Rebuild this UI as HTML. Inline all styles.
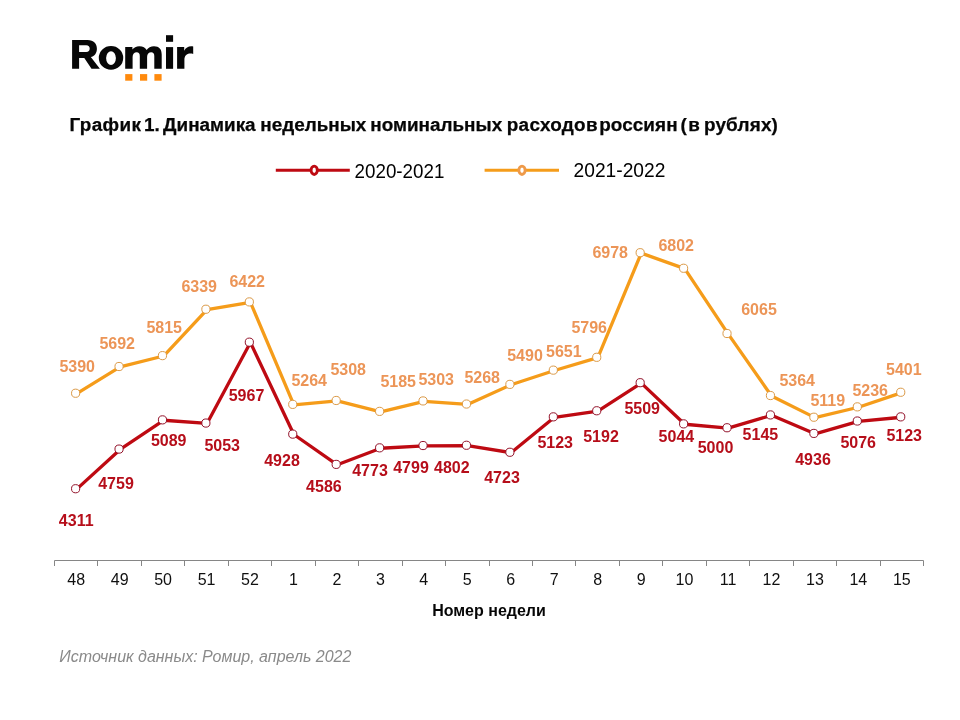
<!DOCTYPE html>
<html lang="ru">
<head>
<meta charset="utf-8">
<title>Romir</title>
<style>
html,body{margin:0;padding:0;background:#fff;}
body{width:960px;height:720px;overflow:hidden;font-family:"Liberation Sans",sans-serif;}
svg{display:block;will-change:transform;}
text{font-family:"Liberation Sans",sans-serif;}
.b{font-weight:bold;}
.dl{font-weight:bold;font-size:16px;text-anchor:middle;}
.tk{font-size:16px;text-anchor:middle;fill:#101010;}
</style>
</head>
<body>
<svg width="960" height="720" viewBox="0 0 960 720">
<rect x="0" y="0" width="960" height="720" fill="#ffffff"/>
<g fill="#070707">
<path fill-rule="evenodd" d="M72.1,68.8 V40 H87.5 C93.8,40 96.9,43.6 96.9,48.7 C96.9,53 94.6,56 90.8,57.1 L99.9,68.8 H91.5 L84.3,57.9 H79.1 V68.8 Z M79.1,45.2 H86.2 C88.6,45.2 89.7,46.6 89.7,48.6 C89.7,50.7 88.6,52.1 86.2,52.1 H79.1 Z"/>
<path fill-rule="evenodd" d="M98.8,57.9 a12.2,11.85 0 1 0 24.4,0 a12.2,11.85 0 1 0 -24.4,0 Z M106.1,58.1 a4.9,6.9 0 1 0 9.8,0 a4.9,6.9 0 1 0 -9.8,0 Z"/>
<path d="M125.2,68.8 V46.9 H132.4 V49.6 C133.8,47.5 136.3,46.2 139.3,46.2 C143,46.2 145.4,47.6 146.6,50 C148.2,47.6 150.8,46.2 154,46.2 C159.2,46.2 161.7,49.2 161.7,54.6 V68.8 H154.3 V56 C154.3,53.4 153.2,52.3 151.2,52.3 C148.8,52.3 147.1,54 147.1,57 V68.8 H139.8 V56 C139.8,53.4 138.7,52.3 136.7,52.3 C134.3,52.3 132.6,54 132.6,57 V68.8 Z"/>
<rect x="166" y="47.1" width="7.1" height="21.7"/>
<rect x="166" y="35.2" width="7.1" height="6.6"/>
<path d="M177.1,68.8 V46.9 H184.2 V50.8 C185.6,47.8 188.2,46.3 191.2,46.3 C192,46.3 192.7,46.4 193.2,46.5 V53.9 C192.4,53.7 191.4,53.5 190.3,53.5 C186.6,53.5 184.4,55.8 184.4,60 V68.8 Z"/>
</g>
<rect x="125.2" y="74.1" width="7.2" height="6.6" fill="#FF8A0D"/>
<rect x="140" y="74.1" width="7.2" height="6.6" fill="#FF8A0D"/>
<rect x="154.4" y="74.1" width="7.2" height="6.6" fill="#FF8A0D"/>
<text x="69.5" y="130.7" class="b" font-size="18.9" fill="#060606" stroke="#060606" stroke-width="0.25" letter-spacing="0.36">График</text>
<text x="144.1" y="130.7" class="b" font-size="18.9" fill="#060606" stroke="#060606" stroke-width="0.25" letter-spacing="0">1.</text>
<text x="163.1" y="130.7" class="b" font-size="18.9" fill="#060606" stroke="#060606" stroke-width="0.25" letter-spacing="0">Динамика</text>
<text x="260.3" y="130.7" class="b" font-size="18.9" fill="#060606" stroke="#060606" stroke-width="0.25" letter-spacing="0">недельных</text>
<text x="370.3" y="130.7" class="b" font-size="18.9" fill="#060606" stroke="#060606" stroke-width="0.25" letter-spacing="0">номинальных</text>
<text x="506.8" y="130.7" class="b" font-size="18.9" fill="#060606" stroke="#060606" stroke-width="0.25" letter-spacing="0.28">расходов</text>
<text x="599.2" y="130.7" class="b" font-size="18.9" fill="#060606" stroke="#060606" stroke-width="0.25" letter-spacing="0.08">россиян</text>
<text x="680.5" y="130.7" class="b" font-size="18.9" fill="#060606" stroke="#060606" stroke-width="0.25" letter-spacing="0">(</text>
<text x="688.3" y="130.7" class="b" font-size="18.9" fill="#060606" stroke="#060606" stroke-width="0.25" letter-spacing="0">в</text>
<text x="703.9" y="130.7" class="b" font-size="18.9" fill="#060606" stroke="#060606" stroke-width="0.25" letter-spacing="0.2">рублях)</text>
<line x1="275.8" y1="170.3" x2="349.8" y2="170.3" stroke="#BE0A12" stroke-width="3"/>
<ellipse cx="314.2" cy="170.3" rx="3.15" ry="4.15" fill="#fff" stroke="#BE0A12" stroke-width="2.9"/>
<text x="354.6" y="177.9" font-size="19.8" fill="#000" textLength="89.8" lengthAdjust="spacingAndGlyphs">2020-2021</text>
<line x1="484.6" y1="170.3" x2="559" y2="170.3" stroke="#F59C1A" stroke-width="3"/>
<ellipse cx="522" cy="170.3" rx="3.15" ry="4.15" fill="#fff" stroke="#EE9A4A" stroke-width="2.9"/>
<text x="573.6" y="177" font-size="19.6" fill="#000" textLength="91.8" lengthAdjust="spacingAndGlyphs">2021-2022</text>
<path d="M54.5 560.5H923.5" stroke="#868686" stroke-width="1" fill="none"/>
<path d="M54.50 560.5V566.0M97.50 560.5V566.0M141.50 560.5V566.0M184.50 560.5V566.0M228.50 560.5V566.0M271.50 560.5V566.0M315.50 560.5V566.0M358.50 560.5V566.0M402.50 560.5V566.0M445.50 560.5V566.0M489.50 560.5V566.0M532.50 560.5V566.0M575.50 560.5V566.0M619.50 560.5V566.0M662.50 560.5V566.0M706.50 560.5V566.0M749.50 560.5V566.0M793.50 560.5V566.0M836.50 560.5V566.0M880.50 560.5V566.0M923.50 560.5V566.0" stroke="#868686" stroke-width="1" fill="none"/>
<text x="76.2" y="584.7" class="tk">48</text>
<text x="119.7" y="584.7" class="tk">49</text>
<text x="163.1" y="584.7" class="tk">50</text>
<text x="206.6" y="584.7" class="tk">51</text>
<text x="250.0" y="584.7" class="tk">52</text>
<text x="293.5" y="584.7" class="tk">1</text>
<text x="336.9" y="584.7" class="tk">2</text>
<text x="380.4" y="584.7" class="tk">3</text>
<text x="423.8" y="584.7" class="tk">4</text>
<text x="467.3" y="584.7" class="tk">5</text>
<text x="510.7" y="584.7" class="tk">6</text>
<text x="554.2" y="584.7" class="tk">7</text>
<text x="597.6" y="584.7" class="tk">8</text>
<text x="641.1" y="584.7" class="tk">9</text>
<text x="684.5" y="584.7" class="tk">10</text>
<text x="728.0" y="584.7" class="tk">11</text>
<text x="771.4" y="584.7" class="tk">12</text>
<text x="814.9" y="584.7" class="tk">13</text>
<text x="858.3" y="584.7" class="tk">14</text>
<text x="901.8" y="584.7" class="tk">15</text>
<text x="489" y="615.7" class="b" font-size="16" fill="#060606" text-anchor="middle">Номер недели</text>
<text x="59.3" y="662.3" font-size="16" font-style="italic" fill="#8a8a8a">Источник данных: Ромир, апрель 2022</text>
<polyline points="76.72,393.63 120.15,366.91 163.57,356.02 207.00,309.65 250.43,302.30 293.86,404.79 337.28,400.89 380.71,411.78 424.14,401.33 467.56,404.43 510.99,384.78 554.42,370.54 597.84,357.70 641.27,253.10 684.70,268.67 728.12,333.90 771.55,395.94 814.98,417.62 858.41,407.26 901.83,392.66" fill="none" stroke="#F59C1A" stroke-width="3.3" stroke-linejoin="round" stroke-linecap="round"/>
<circle cx="75.62" cy="393.24" r="4.1" fill="#fff" stroke="#DB9A48" stroke-width="1"/>
<circle cx="119.05" cy="366.51" r="4.1" fill="#fff" stroke="#DB9A48" stroke-width="1"/>
<circle cx="162.47" cy="355.62" r="4.1" fill="#fff" stroke="#DB9A48" stroke-width="1"/>
<circle cx="205.90" cy="309.25" r="4.1" fill="#fff" stroke="#DB9A48" stroke-width="1"/>
<circle cx="249.33" cy="301.90" r="4.1" fill="#fff" stroke="#DB9A48" stroke-width="1"/>
<circle cx="292.75" cy="404.39" r="4.1" fill="#fff" stroke="#DB9A48" stroke-width="1"/>
<circle cx="336.18" cy="400.49" r="4.1" fill="#fff" stroke="#DB9A48" stroke-width="1"/>
<circle cx="379.61" cy="411.38" r="4.1" fill="#fff" stroke="#DB9A48" stroke-width="1"/>
<circle cx="423.04" cy="400.93" r="4.1" fill="#fff" stroke="#DB9A48" stroke-width="1"/>
<circle cx="466.46" cy="404.03" r="4.1" fill="#fff" stroke="#DB9A48" stroke-width="1"/>
<circle cx="509.89" cy="384.38" r="4.1" fill="#fff" stroke="#DB9A48" stroke-width="1"/>
<circle cx="553.32" cy="370.14" r="4.1" fill="#fff" stroke="#DB9A48" stroke-width="1"/>
<circle cx="596.74" cy="357.30" r="4.1" fill="#fff" stroke="#DB9A48" stroke-width="1"/>
<circle cx="640.17" cy="252.70" r="4.1" fill="#fff" stroke="#DB9A48" stroke-width="1"/>
<circle cx="683.60" cy="268.27" r="4.1" fill="#fff" stroke="#DB9A48" stroke-width="1"/>
<circle cx="727.02" cy="333.50" r="4.1" fill="#fff" stroke="#DB9A48" stroke-width="1"/>
<circle cx="770.45" cy="395.54" r="4.1" fill="#fff" stroke="#DB9A48" stroke-width="1"/>
<circle cx="813.88" cy="417.22" r="4.1" fill="#fff" stroke="#DB9A48" stroke-width="1"/>
<circle cx="857.31" cy="406.86" r="4.1" fill="#fff" stroke="#DB9A48" stroke-width="1"/>
<circle cx="900.73" cy="392.26" r="4.1" fill="#fff" stroke="#DB9A48" stroke-width="1"/>
<polyline points="76.72,489.13 120.15,449.48 163.57,420.27 207.00,423.46 250.43,342.57 293.86,434.52 337.28,464.79 380.71,448.24 424.14,445.94 467.56,445.67 510.99,452.66 554.42,417.26 597.84,411.16 641.27,383.10 684.70,424.26 728.12,428.15 771.55,415.32 814.98,433.81 858.41,421.42 901.83,417.26" fill="none" stroke="#BE0A12" stroke-width="3.3" stroke-linejoin="round" stroke-linecap="round"/>
<circle cx="75.62" cy="488.73" r="4.1" fill="#fff" stroke="#93122A" stroke-width="1"/>
<circle cx="119.05" cy="449.08" r="4.1" fill="#fff" stroke="#93122A" stroke-width="1"/>
<circle cx="162.47" cy="419.87" r="4.1" fill="#fff" stroke="#93122A" stroke-width="1"/>
<circle cx="205.90" cy="423.06" r="4.1" fill="#fff" stroke="#93122A" stroke-width="1"/>
<circle cx="249.33" cy="342.17" r="4.1" fill="#fff" stroke="#93122A" stroke-width="1"/>
<circle cx="292.75" cy="434.12" r="4.1" fill="#fff" stroke="#93122A" stroke-width="1"/>
<circle cx="336.18" cy="464.39" r="4.1" fill="#fff" stroke="#93122A" stroke-width="1"/>
<circle cx="379.61" cy="447.84" r="4.1" fill="#fff" stroke="#93122A" stroke-width="1"/>
<circle cx="423.04" cy="445.54" r="4.1" fill="#fff" stroke="#93122A" stroke-width="1"/>
<circle cx="466.46" cy="445.27" r="4.1" fill="#fff" stroke="#93122A" stroke-width="1"/>
<circle cx="509.89" cy="452.26" r="4.1" fill="#fff" stroke="#93122A" stroke-width="1"/>
<circle cx="553.32" cy="416.86" r="4.1" fill="#fff" stroke="#93122A" stroke-width="1"/>
<circle cx="596.74" cy="410.76" r="4.1" fill="#fff" stroke="#93122A" stroke-width="1"/>
<circle cx="640.17" cy="382.70" r="4.1" fill="#fff" stroke="#93122A" stroke-width="1"/>
<circle cx="683.60" cy="423.86" r="4.1" fill="#fff" stroke="#93122A" stroke-width="1"/>
<circle cx="727.02" cy="427.75" r="4.1" fill="#fff" stroke="#93122A" stroke-width="1"/>
<circle cx="770.45" cy="414.92" r="4.1" fill="#fff" stroke="#93122A" stroke-width="1"/>
<circle cx="813.88" cy="433.41" r="4.1" fill="#fff" stroke="#93122A" stroke-width="1"/>
<circle cx="857.31" cy="421.02" r="4.1" fill="#fff" stroke="#93122A" stroke-width="1"/>
<circle cx="900.73" cy="416.86" r="4.1" fill="#fff" stroke="#93122A" stroke-width="1"/>
<text x="77.2" y="371.9" class="dl" fill="#EC9557">5390</text>
<text x="117.2" y="348.8" class="dl" fill="#EC9557">5692</text>
<text x="164.2" y="332.8" class="dl" fill="#EC9557">5815</text>
<text x="199.2" y="291.8" class="dl" fill="#EC9557">6339</text>
<text x="247.2" y="286.5" class="dl" fill="#EC9557">6422</text>
<text x="309.2" y="385.8" class="dl" fill="#EC9557">5264</text>
<text x="348.2" y="375.2" class="dl" fill="#EC9557">5308</text>
<text x="398.2" y="386.5" class="dl" fill="#EC9557">5185</text>
<text x="436.2" y="384.5" class="dl" fill="#EC9557">5303</text>
<text x="482.2" y="382.5" class="dl" fill="#EC9557">5268</text>
<text x="525" y="361.2" class="dl" fill="#EC9557">5490</text>
<text x="563.8" y="356.5" class="dl" fill="#EC9557">5651</text>
<text x="589.2" y="332.5" class="dl" fill="#EC9557">5796</text>
<text x="610.2" y="257.8" class="dl" fill="#EC9557">6978</text>
<text x="676.2" y="250.8" class="dl" fill="#EC9557">6802</text>
<text x="759" y="314.8" class="dl" fill="#EC9557">6065</text>
<text x="797.2" y="385.8" class="dl" fill="#EC9557">5364</text>
<text x="827.8" y="405.9" class="dl" fill="#EC9557">5119</text>
<text x="870.2" y="396.0" class="dl" fill="#EC9557">5236</text>
<text x="903.8" y="374.8" class="dl" fill="#EC9557">5401</text>
<text x="76.2" y="525.8" class="dl" fill="#B60E1A">4311</text>
<text x="116" y="488.5" class="dl" fill="#B60E1A">4759</text>
<text x="168.7" y="445.5" class="dl" fill="#B60E1A">5089</text>
<text x="222.2" y="450.8" class="dl" fill="#B60E1A">5053</text>
<text x="246.5" y="400.8" class="dl" fill="#B60E1A">5967</text>
<text x="282" y="465.8" class="dl" fill="#B60E1A">4928</text>
<text x="323.9" y="491.5" class="dl" fill="#B60E1A">4586</text>
<text x="370" y="475.5" class="dl" fill="#B60E1A">4773</text>
<text x="411" y="472.8" class="dl" fill="#B60E1A">4799</text>
<text x="451.8" y="472.8" class="dl" fill="#B60E1A">4802</text>
<text x="502" y="483.2" class="dl" fill="#B60E1A">4723</text>
<text x="555.2" y="448.2" class="dl" fill="#B60E1A">5123</text>
<text x="601" y="442.2" class="dl" fill="#B60E1A">5192</text>
<text x="642.2" y="414.2" class="dl" fill="#B60E1A">5509</text>
<text x="676.4" y="441.5" class="dl" fill="#B60E1A">5044</text>
<text x="715.5" y="453.2" class="dl" fill="#B60E1A">5000</text>
<text x="760.4" y="440.2" class="dl" fill="#B60E1A">5145</text>
<text x="813" y="464.5" class="dl" fill="#B60E1A">4936</text>
<text x="858.2" y="448.4" class="dl" fill="#B60E1A">5076</text>
<text x="904.2" y="440.6" class="dl" fill="#B60E1A">5123</text>
</svg>
</body>
</html>
